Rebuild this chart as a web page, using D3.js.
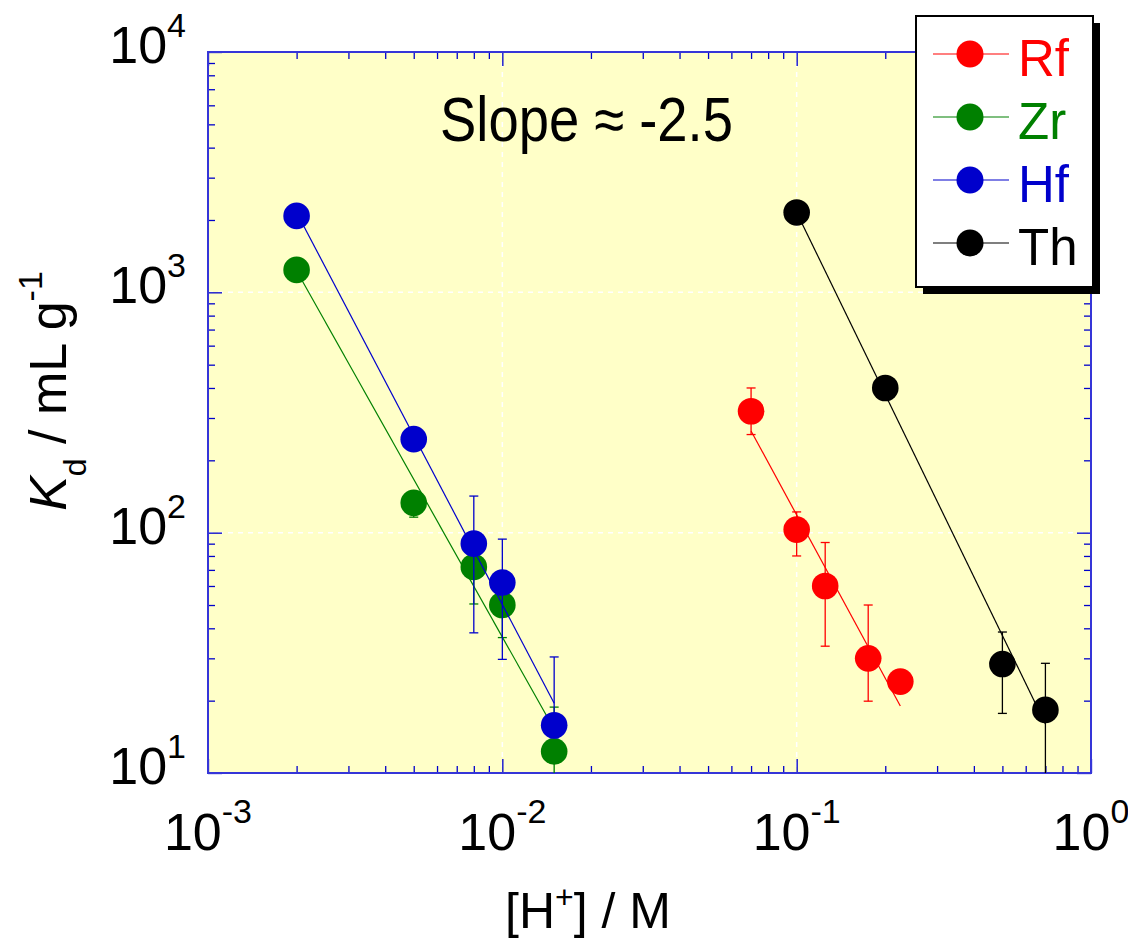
<!DOCTYPE html>
<html><head><meta charset="utf-8">
<script src="https://cdn.jsdelivr.net/npm/d3@7"></script>
<style>body{margin:0;background:#fff}svg{display:block}text{font-family:"Liberation Sans",Arial,sans-serif}</style>
</head><body><svg id="c" width="1128" height="942"></svg>
<script>
// ---------- data ----------
const seriesNames = ["Rf", "Zr", "Hf", "Th"];
const seriesColors = ["#FF0000", "#008000", "#0000CC", "#000000"];

const rfX = [0.07, 0.1, 0.125, 0.175, 0.225];
const rfY = [320, 103, 60, 30, 24];
const rfLo = [256, 80, 33.7, 19.9, null];
const rfHi = [400, 122, 91, 50, null];

const zrX = [0.002, 0.005, 0.008, 0.01, 0.015];
const zrY = [1240, 133, 72, 50, 12.3];
const zrLo = [null, 116, 50.5, 36.6, 8];
const zrHi = [null, 145, 95, 66, 18.8];

const hfX = [0.002, 0.005, 0.008, 0.01, 0.015];
const hfY = [2080, 245, 90, 62, 15.8];
const hfLo = [null, null, 38.3, 29.7, 14];
const hfHi = [null, null, 142, 94, 30.4];

const thX = [0.1, 0.2, 0.5, 0.7];
const thY = [2150, 400, 28.4, 18.3];
const thLo = [null, null, 17.7, 8];
const thHi = [null, null, 38.6, 28.6];

// fitted lines (start / end)
const rfFitX = [0.07, 0.225], rfFitY = [265, 19];
const zrFitX = [0.002, 0.015], zrFitY = [1230, 15.2];
const hfFitX = [0.002, 0.015], hfFitY = [2150, 19.5];
const thFitX = [0.1, 0.7], thFitY = [2150, 16];

const xMajorTicks = [0.001, 0.01, 0.1, 1];
const xTickExp = ["-3", "-2", "-1", "0"];
const yMajorTicks = [10, 100, 1000, 10000];
const yTickExp = ["1", "2", "3", "4"];
const xGrid = [0.01, 0.1];
const yGrid = [100, 1000];
const annotation = "Slope \u2248 -2.5";

// ---------- layout ----------
const L = 208, R = 1091, T = 52, B = 773;
const svg = d3.select("#c");
const x = d3.scaleLog().domain([1e-3, 1]).range([L, R]);
const y = d3.scaleLog().domain([10, 1e4]).range([B, T]);
const axisColor = "#0000CC";

svg.append("rect").attr("x", L).attr("y", T).attr("width", R - L).attr("height", B - T).attr("fill", "#FFFFC8");

svg.append("defs").append("clipPath").attr("id", "clip")
  .append("rect").attr("x", L).attr("y", T).attr("width", R - L).attr("height", B - T);

// grid
svg.append("g").selectAll("line").data(xGrid).join("line")
  .attr("x1", d => x(d)).attr("x2", d => x(d)).attr("y1", T).attr("y2", B)
  .attr("stroke", "#fff").attr("stroke-width", 1.5).attr("stroke-dasharray", "5,5");
svg.append("g").selectAll("line").data(yGrid).join("line")
  .attr("y1", d => y(d)).attr("y2", d => y(d)).attr("x1", L).attr("x2", R)
  .attr("stroke", "#fff").attr("stroke-width", 1.5).attr("stroke-dasharray", "5,5");

// ticks
const xMinor = x.ticks().filter(v => !xMajorTicks.some(m => Math.abs(m - v) / m < 1e-9));
const yMinor = y.ticks().filter(v => !yMajorTicks.some(m => Math.abs(m - v) / m < 1e-9));
function styleAxis(g) {
  g.select(".domain").remove();
  g.selectAll("line").attr("stroke", axisColor).attr("stroke-width", 1.3);
}
const axes = [
  [d3.axisBottom(x), `translate(0,${B})`, xMinor, xMajorTicks],
  [d3.axisTop(x), `translate(0,${T})`, xMinor, xMajorTicks],
  [d3.axisLeft(y), `translate(${L},0)`, yMinor, yMajorTicks],
  [d3.axisRight(y), `translate(${R},0)`, yMinor, yMajorTicks]
];
axes.forEach(([ax, tr, minor, major]) => {
  svg.append("g").attr("transform", tr).call(ax.tickValues(minor).tickSize(-7).tickFormat("")).call(styleAxis);
  svg.append("g").attr("transform", tr).call(ax.tickValues(major).tickSize(-14).tickFormat("")).call(styleAxis);
});

// frame
svg.append("rect").attr("x", L).attr("y", T).attr("width", R - L).attr("height", B - T)
  .attr("fill", "none").attr("stroke", "#3535D8").attr("stroke-width", 2);

// tick labels
const xl = svg.append("g").selectAll("text").data(xMajorTicks).join("text")
  .attr("x", d => x(d)).attr("y", 850).attr("text-anchor", "middle").attr("font-size", 52);
xl.append("tspan").text("10");
xl.append("tspan").attr("dy", -27).attr("font-size", 34).text((d, i) => xTickExp[i]);

const yl = svg.append("g").selectAll("text").data(yMajorTicks).join("text")
  .attr("x", 186).attr("y", d => y(d) + 11).attr("text-anchor", "end").attr("font-size", 52);
yl.append("tspan").text("10");
yl.append("tspan").attr("dy", -26).attr("font-size", 34).text((d, i) => yTickExp[i]);

// axis titles
const xt = svg.append("text").attr("x", 588).attr("y", 928).attr("text-anchor", "middle").attr("font-size", 50);
xt.append("tspan").text("[H");
xt.append("tspan").attr("dy", -20).attr("font-size", 32).text("+");
xt.append("tspan").attr("dy", 20).text("] / M");

const yt = svg.append("text").attr("transform", "translate(66,391) rotate(-90)").attr("text-anchor", "middle").attr("font-size", 52);
yt.append("tspan").attr("font-style", "italic").text("K");
yt.append("tspan").attr("dy", 20).attr("font-size", 32).text("d");
yt.append("tspan").attr("dy", -20).text(" / mL g");
yt.append("tspan").attr("dy", -24).attr("font-size", 34).text("-1");

// annotation
svg.append("text").attr("x", 440).attr("y", 141).attr("font-size", 63)
  .attr("textLength", 293).attr("lengthAdjust", "spacingAndGlyphs").text(annotation);

// series
const allSeries = [
  {X: rfX, Y: rfY, lo: rfLo, hi: rfHi, fx: rfFitX, fy: rfFitY},
  {X: zrX, Y: zrY, lo: zrLo, hi: zrHi, fx: zrFitX, fy: zrFitY},
  {X: hfX, Y: hfY, lo: hfLo, hi: hfHi, fx: hfFitX, fy: hfFitY},
  {X: thX, Y: thY, lo: thLo, hi: thHi, fx: thFitX, fy: thFitY}
];
const line = d3.line().x(d => x(d[0])).y(d => y(d[1]));
allSeries.forEach((s, k) => {
  const c = seriesColors[k];
  const g = svg.append("g");
  g.append("path").datum(s.fx.map((v, i) => [v, s.fy[i]])).attr("d", line)
    .attr("fill", "none").attr("stroke", c).attr("stroke-width", 1.2);
  const eb = s.X.map((v, i) => ({x: v, lo: s.lo[i], hi: s.hi[i]})).filter(d => d.lo != null);
  const eg = g.append("g").attr("clip-path", "url(#clip)");
  eg.selectAll(".v").data(eb).join("line")
    .attr("x1", d => x(d.x)).attr("x2", d => x(d.x)).attr("y1", d => y(d.lo)).attr("y2", d => y(d.hi))
    .attr("stroke", c).attr("stroke-width", 1.3);
  ["lo", "hi"].forEach(key => {
    eg.selectAll(".c" + key).data(eb).join("line")
      .attr("x1", d => x(d.x) - 4.5).attr("x2", d => x(d.x) + 4.5)
      .attr("y1", d => y(d[key])).attr("y2", d => y(d[key]))
      .attr("stroke", c).attr("stroke-width", 1.3);
  });
  g.selectAll("circle").data(s.X.map((v, i) => [v, s.Y[i]])).join("circle")
    .attr("cx", d => x(d[0])).attr("cy", d => y(d[1])).attr("r", 13.3).attr("fill", c);
});

// legend
const lg = svg.append("g");
lg.append("rect").attr("x", 923).attr("y", 23).attr("width", 177).attr("height", 271).attr("fill", "#000");
lg.append("rect").attr("x", 916).attr("y", 16).attr("width", 177).attr("height", 271)
  .attr("fill", "#fff").attr("stroke", "#000").attr("stroke-width", 2);
const ly = d3.scalePoint().domain(seriesNames).range([54, 243]);
seriesNames.forEach((n, i) => {
  const c = seriesColors[i];
  lg.append("line").attr("x1", 933).attr("x2", 1009).attr("y1", ly(n)).attr("y2", ly(n)).attr("stroke", c).attr("stroke-width", 1.2);
  lg.append("circle").attr("cx", 970).attr("cy", ly(n)).attr("r", 13.5).attr("fill", c);
  lg.append("text").attr("x", 1018).attr("y", ly(n) + 22).attr("font-size", 51).attr("fill", c).text(n);
});
</script></body></html>
